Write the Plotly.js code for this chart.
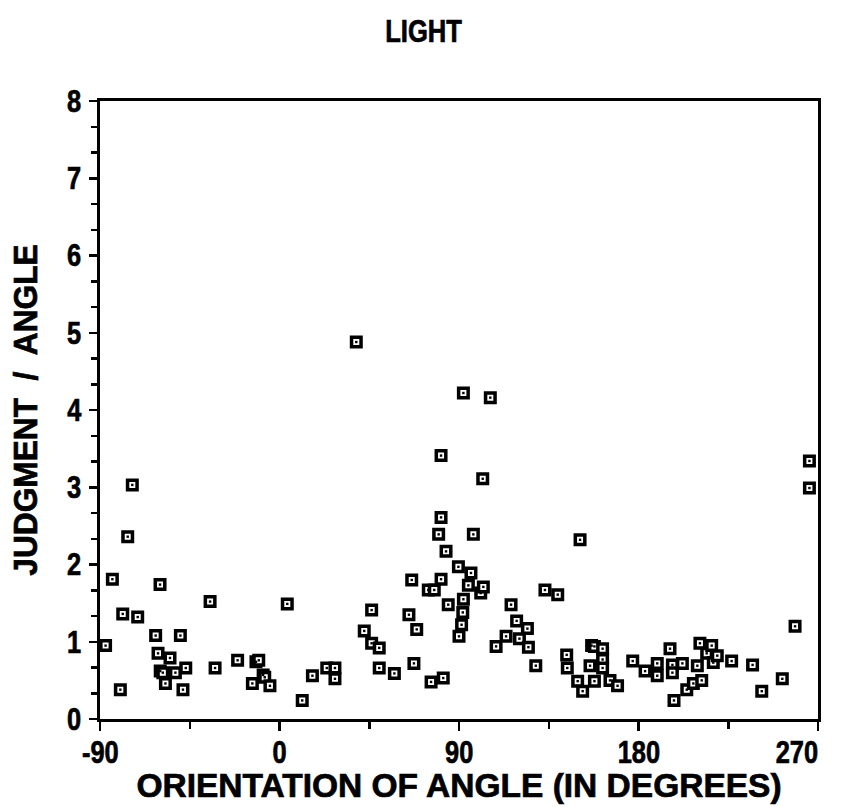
<!DOCTYPE html>
<html>
<head>
<meta charset="utf-8">
<script src="https://cdn.plot.ly/plotly-3.0.1.min.js"></script>
<style>
  html, body { margin: 0; padding: 0; background: #fff; }
  #chart { width: 847px; height: 807px; }
  /* heavier strokes for the black display type */
  #chart text { stroke: #000; stroke-width: 0.7px; }
</style>
</head>
<body>
<div id="chart"></div>
<script>
// Orientation of the angle (degrees) and the judgment / angle ratio for each trial
const orientation = [
  -87.2, -83.8, -79.8, -78.6, -76.1, -73.8, -71.1, -62.1, -60.9, -59.9,
  -59.8, -58.5, -57.2, -54.9, -52.2, -49.7, -48.4, -47.0, -34.8, -32.3,
  -21.0, -13.6, -11.8, -10.4, -8.2, -7.4, -4.8, 3.9, 11.4, 16.5,
  23.7, 27.8, 27.8, 38.5, 42.5, 46.2, 46.2, 50.0, 50.0, 57.6,
  64.9, 66.3, 67.4, 68.8, 74.6, 76.0, 77.6, 79.8, 81.0, 81.0,
  81.0, 82.1, 83.5, 84.6, 89.7, 90.0, 91.3, 91.9, 92.2, 92.2,
  94.7, 96.0, 97.2, 100.9, 101.9, 102.2, 105.7, 108.6, 113.6, 116.1,
  118.9, 120.3, 124.3, 124.8, 128.5, 133.1, 139.5, 144.0, 144.3, 149.5,
  150.7, 152.0, 155.7, 156.5, 157.9, 157.9, 162.0, 162.0, 162.0, 165.7,
  169.5, 177.1, 183.3, 189.4, 189.4, 195.8, 197.0, 197.0, 197.8, 202.0,
  204.2, 207.5, 209.5, 210.8, 211.7, 214.2, 216.7, 217.5, 219.5, 226.7,
  237.2, 241.8, 252.1, 258.5, 265.7, 265.7
];
const ratio = [
  0.95, 1.81, 0.38, 1.36, 2.36, 3.03, 1.32, 1.08, 0.85, 1.74,
  0.62, 0.60, 0.46, 0.79, 0.60, 1.08, 0.38, 0.66, 1.52, 0.66,
  0.76, 0.46, 0.74, 0.76, 0.57, 0.54, 0.43, 1.49, 0.24, 0.56,
  0.66, 0.66, 0.52, 4.88, 1.14, 1.41, 0.98, 0.92, 0.66, 0.59,
  1.35, 1.80, 0.72, 1.16, 1.67, 0.48, 1.67, 2.39, 3.41, 2.61,
  1.81, 0.53, 2.17, 1.48, 1.97, 1.07, 1.22, 1.38, 1.55, 4.22,
  1.73, 1.89, 2.39, 1.63, 3.11, 1.71, 4.16, 0.94, 1.07, 1.48,
  1.27, 1.04, 1.17, 0.93, 0.69, 1.67, 1.61, 0.83, 0.66, 0.49,
  2.32, 0.36, 0.69, 0.95, 0.94, 0.49, 0.91, 0.77, 0.66, 0.50,
  0.43, 0.75, 0.62, 0.72, 0.56, 0.91, 0.70, 0.60, 0.24, 0.72,
  0.38, 0.46, 0.69, 0.98, 0.50, 0.85, 0.95, 0.73, 0.82, 0.75,
  0.70, 0.36, 0.52, 1.20, 3.34, 2.99
];

const xTicks = [-90, 0, 90, 180, 270];
const xTickText = ['-90', '0', '90', '180', '270'];
const yTicks = [0, 1, 2, 3, 4, 5, 6, 7, 8];

const FONT = '"Liberation Sans", Arial, Helvetica, sans-serif';
const BOLD = { family: FONT, weight: 'bold', color: '#000' };
const bold = size => Object.assign({ size: size }, BOLD);

const traces = [
  {
    // open square with heavy black outline
    x: orientation, y: ratio,
    type: 'scatter', mode: 'markers',
    marker: { symbol: 'square', size: 9.5, color: '#fff', line: { color: '#000', width: 3.5 } },
    cliponaxis: false,
    hoverinfo: 'x+y'
  },
  {
    // centre dot of each square
    x: orientation, y: ratio,
    type: 'scatter', mode: 'markers',
    marker: { symbol: 'square', size: 2.4, color: '#000', line: { width: 0 } },
    cliponaxis: false,
    hoverinfo: 'skip'
  }
];

// x tick labels; the last one sits inside the right edge of the frame
const xLabelAnnotations = xTicks.map((v, i) => ({
  x: v, xref: 'x', y: 0, yref: 'paper',
  text: xTickText[i],
  showarrow: false,
  xanchor: i === xTicks.length - 1 ? 'right' : 'center',
  xshift: i === xTicks.length - 1 ? 7 : 0,
  yanchor: 'top', yshift: -14,
  font: bold(31)
}));

const layout = {
  width: 847, height: 807,
  paper_bgcolor: '#fff', plot_bgcolor: '#fff',
  showlegend: false,
  margin: { l: 100, r: 29, t: 101, b: 88 },
  title: {
    text: 'LIGHT',
    x: 0.5, xref: 'container', xanchor: 'center',
    y: 0.962, yref: 'container', yanchor: 'middle',
    font: bold(32)
  },
  annotations: xLabelAnnotations,
  xaxis: {
    range: [-90, 270],
    tickmode: 'array', tickvals: xTicks, showticklabels: false,
    ticks: 'outside', ticklen: 9, tickwidth: 2.5, tickcolor: '#000',
    minor: { tickmode: 'linear', tick0: -90, dtick: 45, ticks: 'outside', ticklen: 7, tickwidth: 2.5, tickcolor: '#000', showgrid: false },
    showline: true, linecolor: '#000', linewidth: 3, mirror: true,
    showgrid: false, zeroline: false, automargin: false,
    title: { text: 'ORIENTATION OF ANGLE (IN DEGREES)', standoff: 44, font: bold(33.5) }
  },
  yaxis: {
    range: [0, 8],
    tickmode: 'array', tickvals: yTicks,
    ticks: 'outside', ticklen: 8, tickwidth: 2.5, tickcolor: '#000',
    minor: { tickmode: 'linear', tick0: 0, dtick: 1 / 3, ticks: 'outside', ticklen: 6, tickwidth: 2.5, tickcolor: '#000', showgrid: false },
    showline: true, linecolor: '#000', linewidth: 3, mirror: true,
    showgrid: false, zeroline: false, automargin: false,
    tickfont: bold(31),
    title: { text: 'JUDGMENT  /  ANGLE', standoff: 18, font: bold(33) }
  }
};

// Squeeze text horizontally (in its own writing direction) about its centre,
// giving a condensed bold face from the regular one.
function condense(selector, k) {
  document.querySelectorAll('#chart ' + selector).forEach(t => {
    const bb = t.getBBox();
    const cx = bb.x + bb.width / 2;
    const tr = t.getAttribute('transform') || '';
    t.setAttribute('transform', tr + ' translate(' + cx + ',0) scale(' + k + ',1) translate(' + (-cx) + ',0)');
  });
}

Plotly.newPlot('chart', traces, layout, { displayModeBar: false, staticPlot: true }).then(() => {
  condense('.ytick text', 0.82);
  condense('.annotation-text', 0.82);
  condense('.gtitle', 0.8);
  condense('.ytitle', 0.96);
});
</script>
</body>
</html>
